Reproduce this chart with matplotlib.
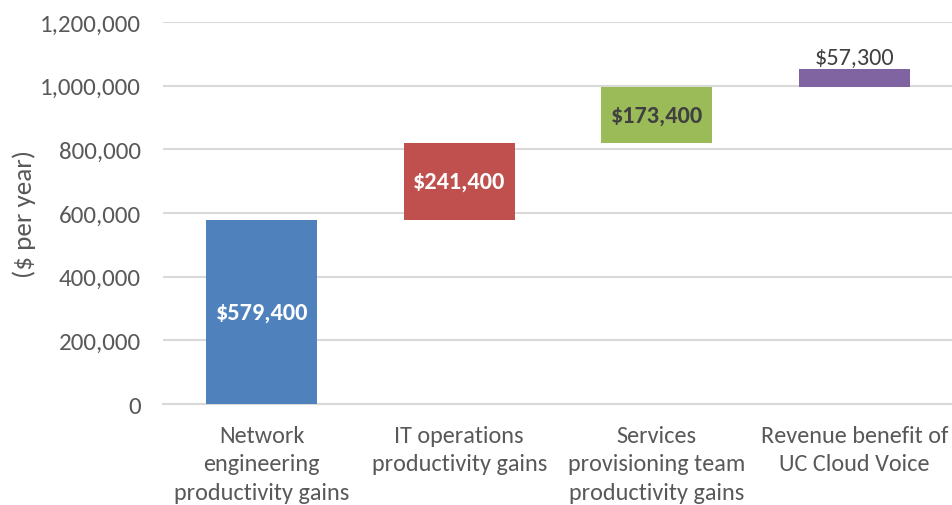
import matplotlib
matplotlib.use('Agg')
import matplotlib.pyplot as plt
import numpy as np
from matplotlib import font_manager
from matplotlib.ticker import FuncFormatter

categories = ['Network\nengineering\nproductivity gains',
              'IT operations\nproductivity gains',
              'Services\nprovisioning team\nproductivity gains',
              'Revenue benefit of\nUC Cloud Voice']
values = [579400, 241400, 173400, 57300]
bar_colors = ['#4F81BD', '#C0504D', '#9BBB59', '#8064A2']
y_ticks = [0, 200000, 400000, 600000, 800000, 1000000, 1200000]

installed = {f.name for f in font_manager.fontManager.ttflist}
family = 'Lato'
for name in ['Carlito', 'Calibri', 'Lato']:
    if name in installed:
        family = name
        break
plt.rcParams['font.family'] = family

fig = plt.figure(figsize=(9.53, 5.06), dpi=100)
ax = fig.add_axes([0.171, 0.1996, 0.829, 0.755])

x = np.arange(len(values))
bottoms = np.concatenate([[0], np.cumsum(values)[:-1]])
ax.bar(x, values, bottom=bottoms, width=0.56, color=bar_colors, zorder=3)

# data labels
label_styles = [('white', 'bold'), ('white', 'bold'), ('#404040', 'bold'), ('#404040', 'normal')]
for i, v in enumerate(values):
    col, wt = label_styles[i]
    txt = '${:,}'.format(v)
    if i == len(values) - 1:
        ax.text(x[i], bottoms[i] + v + 6000, txt, ha='center', va='bottom',
                color=col, fontweight=wt, fontsize=17.5)
    else:
        ax.text(x[i], bottoms[i] + v / 2, txt, ha='center', va='center',
                color=col, fontweight=wt, fontsize=17.5)

ax.set_xlim(-0.5, len(values) - 0.5)
ax.set_ylim(0, 1200000)
ax.set_yticks(y_ticks)
ax.yaxis.set_major_formatter(FuncFormatter(lambda v, p: '{:,.0f}'.format(v)))
ax.set_xticks(x)
ax.set_xticklabels(categories, fontsize=17.5, color='#595959', linespacing=1.45)
ax.tick_params(axis='y', labelsize=18, labelcolor='#595959', length=0, pad=16)
ax.tick_params(axis='x', length=0, pad=15)
ax.set_ylabel('($ per year)', fontsize=19.5, color='#595959', labelpad=3)

ax.grid(axis='y', color='#D9D9D9', linewidth=1.5, zorder=0)
for s in ['top', 'right', 'left']:
    ax.spines[s].set_visible(False)
ax.spines['bottom'].set_color('#D9D9D9')
ax.spines['bottom'].set_linewidth(1.5)

fig.savefig('out.png', dpi=100)
